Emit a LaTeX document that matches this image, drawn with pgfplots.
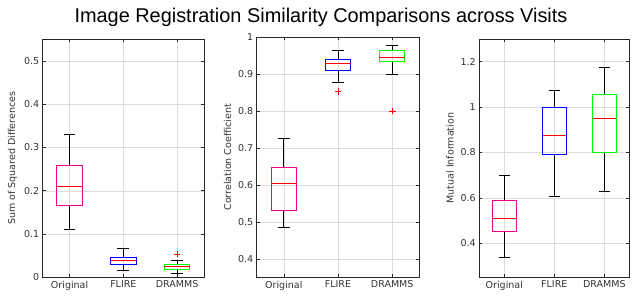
\documentclass[border=0pt]{standalone}
\usepackage{pgfplots}
\pgfplotsset{compat=1.18}
\usepgfplotslibrary{statistics}
\usepackage{fontspec}
\setmainfont{DejaVu Sans}
\newfontfamily\titlefont{Liberation Sans}
\definecolor{axgray}{gray}{0.15}
\definecolor{gridgray}{gray}{0.86}
\definecolor{medred}{rgb}{1,0,0}
\pgfplotsset{
  panel/.style={
    scale only axis, anchor=south west,
    xmin=0.5, xmax=3.5,
    xtick={1,2,3}, xticklabels={Original,FLIRE,DRAMMS},
    grid=major, major grid style={gridgray, line width=0.5pt},
    axis line style={axgray, line width=0.6pt},
    tick style={axgray, line width=0.6pt},
    tick align=inside, tick pos=both,
    major tick length=3pt,
    ticklabel style={font=\fontsize{9.5}{10}\selectfont, text=black!80},
    label style={font=\fontsize{9.5}{10}\selectfont, text=black!80},
    /pgf/number format/assume math mode=true,
    yticklabel style={/pgf/number format/fixed},
    boxplot/draw direction=y,
    boxplot/box extend=0.47,
    boxplot/whisker extend=0.22,
    boxplot/every whisker/.style={draw=black, solid, line width=0.7pt},
    boxplot/every median/.style={draw=medred, solid, line width=0.9pt},
    boxplot/every box/.style={line width=0.9pt},
  },
  outl/.style={only marks, mark=+, draw=red, mark size=3.3pt, line width=0.7pt},
}
\begin{document}
\begin{tikzpicture}
\useasboundingbox (0pt,0pt) rectangle (640pt,303pt);
\node[font=\titlefont\fontsize{19.9}{22}\selectfont] at (321pt,285.5pt) {Image Registration Similarity Comparisons across Visits};

% Panel 1
\begin{axis}[panel, at={(42.7pt,25.7pt)}, width=161.3pt, height=238pt,
  ymin=0, ymax=0.55, ytick={0,0.1,0.2,0.3,0.4,0.5},
  ylabel={Sum of Squared Differences}]
\addplot[draw=magenta, boxplot prepared={draw position=1, lower whisker=0.110, lower quartile=0.167, median=0.209, upper quartile=0.258, upper whisker=0.331}] coordinates {};
\addplot[draw=blue, boxplot prepared={draw position=2, lower whisker=0.016, lower quartile=0.030, median=0.038, upper quartile=0.046, upper whisker=0.067}] coordinates {};
\addplot[draw=green, boxplot prepared={draw position=3, lower whisker=0.009, lower quartile=0.018, median=0.024, upper quartile=0.030, upper whisker=0.040}] coordinates {};
\addplot[outl] coordinates {(3,0.054)};
\end{axis}

% Panel 2
\begin{axis}[panel, at={(256.7pt,25.7pt)}, width=162.6pt, height=240pt,
  ymin=0.35, ymax=1.0, ytick={0.4,0.5,0.6,0.7,0.8,0.9,1},
  yticklabels={0.4,0.5,0.6,0.7,0.8,0.9,1},
  ylabel={Correlation Coefficient}]
\addplot[draw=magenta, boxplot prepared={draw position=1, lower whisker=0.486, lower quartile=0.530, median=0.605, upper quartile=0.648, upper whisker=0.725}] coordinates {};
\addplot[draw=blue, boxplot prepared={draw position=2, lower whisker=0.877, lower quartile=0.911, median=0.930, upper quartile=0.941, upper whisker=0.966}] coordinates {};
\addplot[draw=green, boxplot prepared={draw position=3, lower whisker=0.900, lower quartile=0.935, median=0.946, upper quartile=0.964, upper whisker=0.977}] coordinates {};
\addplot[outl] coordinates {(2,0.853) (3,0.800)};
\end{axis}

% Panel 3
\begin{axis}[panel, at={(479.3pt,25.7pt)}, width=150pt, height=238.3pt,
  ymin=0.25, ymax=1.3, ytick={0.4,0.6,0.8,1,1.2},
  yticklabels={0.4,0.6,0.8,1,1.2},
  ylabel={Mutual Information}]
\addplot[draw=magenta, boxplot prepared={draw position=1, lower whisker=0.340, lower quartile=0.450, median=0.508, upper quartile=0.589, upper whisker=0.698}] coordinates {};
\addplot[draw=blue, boxplot prepared={draw position=2, lower whisker=0.605, lower quartile=0.791, median=0.876, upper quartile=0.998, upper whisker=1.075}] coordinates {};
\addplot[draw=green, boxplot prepared={draw position=3, lower whisker=0.630, lower quartile=0.802, median=0.948, upper quartile=1.056, upper whisker=1.173}] coordinates {};
\end{axis}
\end{tikzpicture}
\end{document}
